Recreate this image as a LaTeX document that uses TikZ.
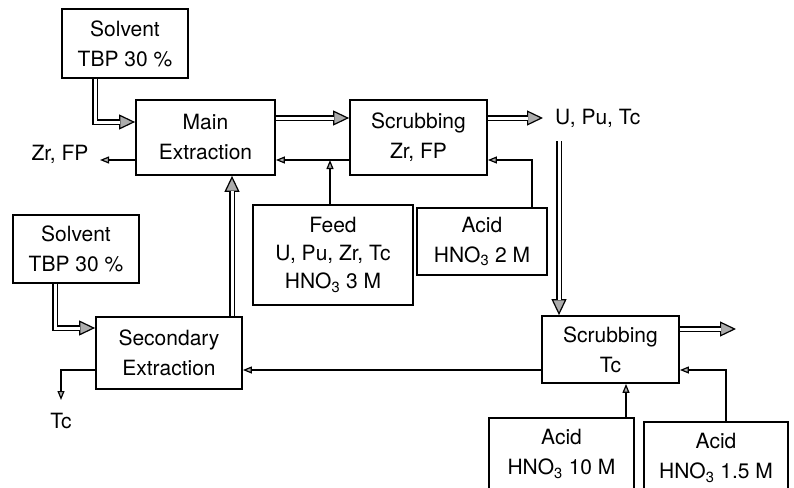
\documentclass[tikz,border=0pt]{standalone}
\usepackage{fontspec}
\setmainfont{TeX Gyre Heros}
\usepackage{tikz}
\usetikzlibrary{arrows.meta, positioning}

\begin{document}
\begin{tikzpicture}[x=1pt, y=-1pt,
    unit/.style={rectangle, draw=black, line width=1.8pt, align=center,
                 inner sep=0pt, font=\fontsize{21}{30}\selectfont},
    stock/.style={rectangle, draw=black, line width=1.4pt, align=center,
                  inner sep=0pt, font=\fontsize{21}{30}\selectfont},
    flow/.style={line width=5.4pt,
                 -{Triangle[length=16pt, width=15pt, line width=1.2pt, fill=gray!65]},
                 postaction={draw=white, line width=3pt, -, shorten >=15pt}},
    stream/.style={line width=1.2pt, -{Triangle[length=9pt, width=7pt, fill=gray!60]}},
    label/.style={font=\fontsize{21}{25}\selectfont}]

    \useasboundingbox (0,0) rectangle (794,487);
    \clip (0,0) rectangle (794,487);

    % First cycle (top)
    \node[stock, minimum width=126pt, minimum height=69pt] (solventA) at (125,43.5) {Solvent\\TBP 30 \%};
    \node[unit, minimum width=139pt, minimum height=75pt] (mainext) at (205.5,137.5) {Main\\Extraction};
    \node[unit, minimum width=137pt, minimum height=75pt] (scrubzr) at (418.5,137.5) {Scrubbing\\Zr, FP};
    \node[stock, minimum width=160pt, minimum height=100pt, font=\fontsize{21}{28}\selectfont] (feed) at (333,255) {Feed\\U, Pu, Zr, Tc\\HNO\textsubscript{3} 3 M};
    \node[stock, minimum width=130pt, minimum height=67pt] (acidA) at (482,241.5) {Acid\\HNO\textsubscript{3} 2 M};
    \node[label, anchor=west, inner xsep=12pt] (uputc) at (543,118) {U, Pu, Tc};
    \node[label, anchor=base east] (zrfp) at (92,160) {Zr, FP};

    % Second cycle (bottom)
    \node[stock, minimum width=126pt, minimum height=68pt] (solventB) at (76,249) {Solvent\\TBP 30 \%};
    \node[unit, minimum width=146pt, minimum height=72pt] (secext) at (169,353) {Secondary\\Extraction};
    \node[unit, minimum width=137pt, minimum height=67pt] (scrubtc) at (610.5,349.5) {Scrubbing\\Tc};
    \node[stock, minimum width=145pt, minimum height=72pt] (acidB) at (561.5,454) {Acid\\HNO\textsubscript{3} 10 M};
    \node[stock, minimum width=144pt, minimum height=72pt] (acidC) at (716,458) {Acid\\HNO\textsubscript{3} 1.5 M};
    \node[label, anchor=north] (tcres) at (61,410) {Tc};

    \coordinate (ret) at ([yshift=-22.5pt]scrubzr.west);
    \coordinate (zrend) at (100,160);
    \coordinate (uptdown) at (559,141);
    \coordinate (tcout) at (736,329);

    % Main streams
    \draw[flow] ([xshift=-30pt]solventA.south) |- ([yshift=15.5pt]mainext.west);
    \draw[flow] ([yshift=19.5pt]mainext.east) -- ([yshift=19.5pt]scrubzr.west);
    \draw[flow] ([yshift=19.5pt]scrubzr.east) -- (uputc.west);
    \draw[flow] (uptdown) -- (uptdown |- scrubtc.north);
    \draw[flow] (scrubtc.east |- tcout) -- (tcout);
    \draw[flow] ([xshift=-21pt]solventB.south) |- ([yshift=25pt]secext.west);
    \draw[flow] ([xshift=63pt]secext.north) -- ([xshift=63pt]secext.north |- mainext.south);

    % Aqueous streams
    \draw[stream] (ret) -- ([yshift=-22.5pt]mainext.east);
    \draw[stream] ([xshift=-3pt]feed.north) -- ([xshift=-3pt]feed.north |- ret);
    \draw[stream] ([xshift=50pt]acidA.north) |- ([yshift=-22.5pt]scrubzr.east);
    \draw[stream] ([yshift=-22.5pt]mainext.west) -- (zrend);
    \draw[stream] ([xshift=64.5pt]acidB.north) -- ([xshift=64.5pt]acidB.north |- scrubtc.south);
    \draw[stream] ([xshift=10pt]acidC.north) |- ([yshift=-20.5pt]scrubtc.east);
    \draw[stream] ([yshift=-20.5pt]scrubtc.west) -- ([yshift=-20.5pt]scrubtc.west -| secext.east);
    \draw[stream] ([yshift=-17pt]secext.west) -| ([yshift=10pt]tcres.north);

\end{tikzpicture}
\end{document}
